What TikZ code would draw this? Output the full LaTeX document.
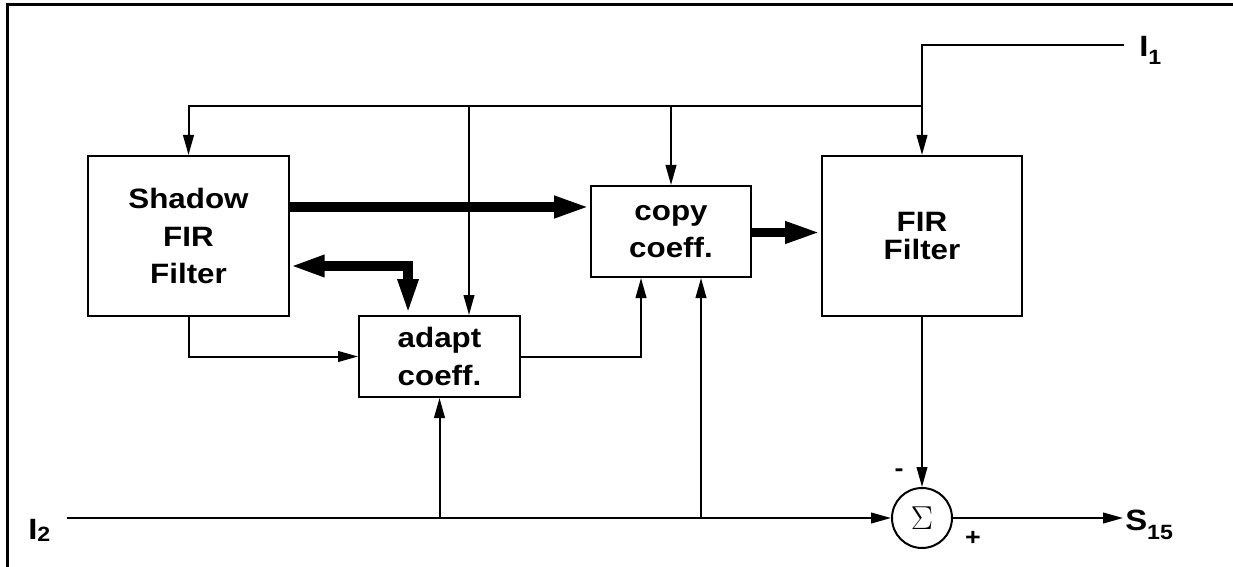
\documentclass[tikz,border=0pt]{standalone}
\usepackage{fontspec}
\setmainfont{Liberation Sans}[FakeStretch=1.12]
\usetikzlibrary{arrows.meta}

\newcommand{\boxfont}{\fontsize{21}{28}\selectfont\bfseries}
\newcommand{\lblfont}{\fontsize{22}{22}\selectfont\bfseries}
\newcommand{\sbs}[2][6pt]{\raisebox{-#1}{\fontsize{15.5}{15.5}\selectfont #2}}

\tikzset{
	blk/.style={draw, line width=1.5pt, rectangle, align=center, inner sep=0.75pt, font=\boxfont},
	lbl/.style={inner sep=0pt, anchor=base west, font=\lblfont},
	arr/.style={line width=1.5pt, -{Triangle[length=15pt,width=8pt]}},
	fat/.style={line width=7pt, -{Triangle[length=27pt,width=15pt]}},
	fatboth/.style={line width=7pt, {Triangle[length=26pt,width=15pt]}-{Triangle[length=27pt,width=14pt]}},
}

\begin{document}
\begin{tikzpicture}[x=0.75pt,y=0.75pt,yscale=-1,xscale=1]
		\useasboundingbox (0,0) rectangle (1233,567);
		% frame
		\draw [line width=2.25pt] (7,567) -- (7,5) -- (1233,5);
		% blocks
		\node [blk, minimum width=150.75pt, minimum height=120pt] (shadow) at (188.5,236) {Shadow\\FIR\\Filter};
		\node [blk, minimum width=150pt, minimum height=120pt, font=\fontsize{21}{21}\selectfont\bfseries] (fir) at (922,236) {FIR\\Filter};
		\node [blk, minimum width=120pt, minimum height=68.25pt] (copy) at (671,231.5) {copy\\coeff.};
		\node [blk, minimum width=120.75pt, minimum height=60.75pt] (adapt) at (439.5,356.5) {adapt\\coeff.};
		\node [draw, circle, line width=1.5pt, minimum size=45pt, inner sep=0pt, font=\fontsize{24}{24}\selectfont] (sum) at (922,518) {$\Sigma$};
		% labels
		\node [lbl] (i1) at (1139,57) {I\sbs{1}};
		\node [lbl] (i2) at (28,539) {I\sbs[2pt]{2}};
		\node [lbl] (s15) at (1125,530) {S\sbs[6.75pt]{15}};
		\node [font=\fontsize{18}{18}\selectfont\bfseries, inner sep=0pt] (minus) at (899,473) {-};
		\node [font=\fontsize{18}{18}\selectfont\bfseries, inner sep=0pt] (plus) at (973,538) {+};
		% ends and taps
		\coordinate (i1end) at (1124,45);
		\coordinate (tap) at (922,106);
		\coordinate (adtap) at (469,106);
		\coordinate (i2end) at (67,518);
		\coordinate (s15end) at (1123,518);
		% input I1 and its bus
		\draw [arr] (i1end) -| (fir.north);
		\draw [arr] (tap) -| (shadow.north);
		\draw [arr] (copy.north |- tap) -- (copy.north);
		\draw [arr] (adtap) -- (adtap |- adapt.north);
		% coefficient paths (yshift is flipped by yscale=-1)
		\draw [fat] ([yshift=-21.75pt]shadow.east) -- ([yshift=-21.75pt]shadow.east -| copy.west);
		\draw [fat] ([yshift=0.75pt]copy.east) -- ([yshift=0.75pt]copy.east -| fir.west);
		\draw [fatboth] ([yshift=22.5pt]shadow.east) -| ([xshift=-23.6pt]adapt.north);
		\draw [arr] (shadow.south) |- (adapt.west);
		\draw [arr] (adapt.east) -| ([xshift=-22.5pt]copy.south);
		% input I2
		\draw [arr] (i2end) -- (sum.west);
		\draw [arr] (adapt.south |- i2end) -- (adapt.south);
		\draw [arr] ([xshift=22.5pt]copy.south |- i2end) -- ([xshift=22.5pt]copy.south);
		% output
		\draw [arr] (fir.south) -- (sum.north);
		\draw [arr] (sum.east) -- (s15end);
\end{tikzpicture}
\end{document}
